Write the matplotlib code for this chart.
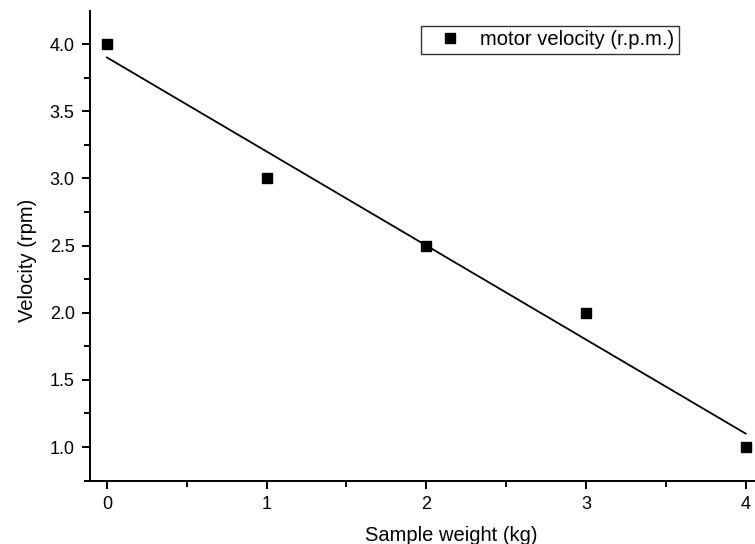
import numpy as np
import matplotlib.pyplot as plt
from matplotlib.ticker import MultipleLocator

weight = [0, 1, 2, 3, 4]
velocity = [4.0, 3.0, 2.5, 2.0, 1.0]

plt.rcParams['font.family'] = ['Liberation Sans', 'DejaVu Sans']

fig = plt.figure(figsize=(7.55, 5.44), dpi=100)
ax = fig.add_axes([0.1192, 0.1158, 0.879, 0.864])

# linear fit through the points
k, b = np.polyfit(weight, velocity, 1)
xf = np.array([weight[0], weight[-1]])
ax.plot(xf, k * xf + b, color='black', lw=1.3)
ax.plot(weight, velocity, 's', color='black', ms=7, label='motor velocity (r.p.m.)')

ax.set_xlim(-0.106, 4.05)
ax.set_ylim(0.747, 4.246)
ax.xaxis.set_major_locator(MultipleLocator(1))
ax.xaxis.set_minor_locator(MultipleLocator(0.5))
ax.yaxis.set_major_locator(MultipleLocator(0.5))
ax.yaxis.set_minor_locator(MultipleLocator(0.25))
ax.yaxis.set_major_formatter(plt.FormatStrFormatter('%.1f'))

for s in ['top', 'right']:
    ax.spines[s].set_visible(False)
for s in ['left', 'bottom']:
    ax.spines[s].set_linewidth(1.4)
ax.tick_params(which='major', direction='out', length=6, width=1.4, labelsize=13, pad=5)
ax.tick_params(which='minor', direction='out', length=4, width=1.4)

ax.set_xlabel('Sample weight (kg)', fontsize=14.5)
ax.set_ylabel('Velocity (rpm)', fontsize=14.5)
ax.xaxis.set_label_coords(0.544, -0.095)
ax.yaxis.set_label_coords(-0.08, 0.47)

leg = ax.legend(loc='upper left', bbox_to_anchor=(0.499, 0.968), borderaxespad=0,
                fontsize=14.5, frameon=True, fancybox=False, edgecolor='black',
                handletextpad=0.3, borderpad=0.22, handlelength=2.4)
leg.get_frame().set_linewidth(1.0)

fig.savefig('out.png', dpi=100)
